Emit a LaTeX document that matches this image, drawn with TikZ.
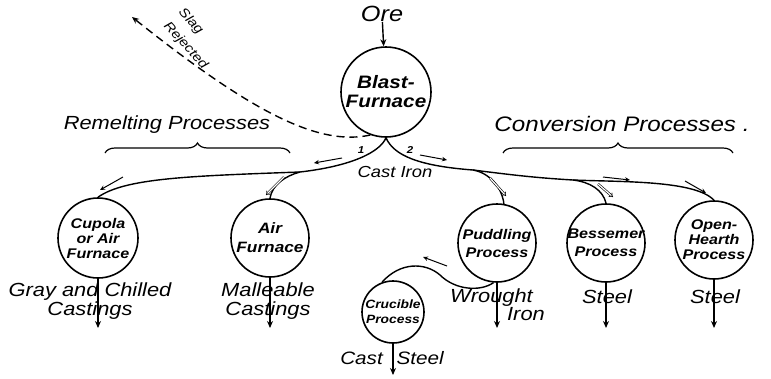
\documentclass[tikz,border=0pt]{standalone}
\usepackage{fontspec}
\newfontfamily\hand{Liberation Sans}[FakeStretch=1.15]
\usetikzlibrary{arrows.meta, decorations.pathreplacing}
\tikzset{
  furnace/.style={draw, circle, line width=1.6pt, minimum size=78pt, inner sep=0pt},
  intext/.style={align=center, inner sep=0pt, font=\hand\bfseries\itshape\fontsize{14}{18}\selectfont},
  intextthree/.style={intext, font=\hand\bfseries\itshape\fontsize{14}{15}\selectfont},
  handtext/.style={align=center, inner sep=0pt, font=\hand\itshape\fontsize{19}{19}\selectfont},
  flow/.style={line width=1.4pt},
  product/.style={line width=1.4pt, -{Stealth[length=7pt, width=6pt]}},
  dirmark/.style={line width=1pt, -{Stealth[length=5pt, width=4.5pt]}},
  dblmark/.style={line width=0.6pt, double, double distance=1.2pt, -{Implies}},
}
\begin{document}
\begin{tikzpicture}[x=1pt, y=-1pt]
    \useasboundingbox (0,0) rectangle (771,378);

    \node[handtext, font=\hand\itshape\fontsize{22}{22}\selectfont] at (382,14) (ore) {Ore};
    \node[furnace, minimum size=90pt, label={[intext, font=\hand\bfseries\itshape\fontsize{18}{19}\selectfont]center:{Blast-\\Furnace}}] at (386,92) (blast) {};

    \node[furnace, minimum size=80pt, label={[intextthree]center:{Cupola\\or Air\\Furnace}}] at (98,238) (cupola) {};
    \node[furnace, label={[intext, font=\hand\bfseries\itshape\fontsize{15}{19}\selectfont]center:{Air\\Furnace}}] at (270,238) (air) {};
    \node[furnace, label={[intext]center:{Puddling\\Process}}] at (497,243) (puddling) {};
    \node[furnace, label={[intext]center:{Bessemer\\Process}}] at (606,243) (bessemer) {};
    \node[furnace, label={[intextthree]center:{Open-\\Hearth\\Process}}] at (714,240) (hearth) {};
    \node[furnace, minimum size=62pt, label={[intext, font=\hand\bfseries\itshape\fontsize{12}{15}\selectfont]center:{Crucible\\Process}}] at (393,312) (crucible) {};

    \node[handtext] at (90,301) (graylbl) {Gray and Chilled\\Castings};
    \node[handtext] at (268,301) (malllbl) {Malleable\\Castings};
    \node[handtext, align=right, anchor=north east, font=\hand\itshape\fontsize{19}{17}\selectfont] at (545,289) (wroughtlbl) {Wrought\hspace*{12pt}\\Iron};
    \node[handtext] at (607,297) (steelbess) {Steel};
    \node[handtext] at (715,297) (steelhearth) {Steel};
    \node[handtext, font=\hand\itshape\fontsize{18}{18}\selectfont] at (392,358) (caststeel) {Cast\hspace{8pt} Steel};

    \node[handtext, font=\hand\itshape\fontsize{16}{16}\selectfont] at (395,172) (castiron) {Cast Iron};
    \node[handtext, font=\hand\bfseries\itshape\fontsize{10}{10}\selectfont] at (361,150) (one) {1};
    \node[handtext, font=\hand\bfseries\itshape\fontsize{10}{10}\selectfont] at (410,150) (two) {2};

    \node[handtext] at (167,125) (remelt) {Remelting Processes};
    \node[handtext, font=\hand\itshape\fontsize{21}{21}\selectfont] at (622,124) (convert) {Conversion Processes .};
    \node[handtext, align=left, rotate=-48, font=\hand\itshape\fontsize{13}{20}\selectfont] at (193,39) (slaglbl) {Slag\\Rejected};

    \coordinate (lsplit) at (300,172);
    \coordinate (rsplit) at (473,170);
    \coordinate (bsplit) at (573,180);
    \coordinate (slag) at (132,17);
    \coordinate (cupolaout) at (98,328);
    \coordinate (airout) at (270,328);
    \coordinate (puddlingout) at (497,328);
    \coordinate (bessemerout) at (606,328);
    \coordinate (hearthout) at (714,328);
    \coordinate (crucibleout) at (393,375);

    \draw[product] (ore) -- (blast);
    \draw[flow, dashed, dash pattern=on 8pt off 5pt, -{Stealth[length=7pt, width=6pt]}] (blast.250) .. controls (320,146) and (255,115) .. (slag);

    \draw[flow] (blast.south) .. controls (380,152) and (352,166) .. (lsplit) .. controls (190,176) and (125,178) .. (cupola.north);
    \draw[flow] (lsplit) .. controls (285,176) and (272,185) .. (air.north);
    \draw[flow] (blast.south) .. controls (394,156) and (420,166) .. (rsplit) .. controls (520,176) and (540,178) .. (bsplit) .. controls (620,182) and (695,180) .. (hearth.north);
    \draw[flow] (rsplit) .. controls (490,173) and (502,188) .. (puddling.80);
    \draw[flow] (bsplit) .. controls (590,182) and (603,190) .. (bessemer.north);
    \draw[flow] (puddling.265) .. controls (480,292) and (455,290) .. (440,275) .. controls (425,262) and (400,262) .. (crucible.110);

    \draw[product] (cupola) -- (cupolaout);
    \draw[product] (air) -- (airout);
    \draw[product] (puddling) -- (puddlingout);
    \draw[product] (bessemer) -- (bessemerout);
    \draw[product] (hearth) -- (hearthout);
    \draw[product] (crucible) -- (crucibleout);

    \draw[dirmark] (342,158) -- (314,163);
    \draw[dirmark] (420,155) -- (447,160);
    \draw[dirmark] (123,177) -- (100,190);
    \draw[dblmark] (284,177) -- (266,195);
    \draw[dblmark] (490,178) -- (506,196);
    \draw[dblmark] (598,184) -- (613,197);
    \draw[dirmark] (603,177) -- (630,180);
    \draw[dirmark] (685,181) -- (706,193);
    \draw[dirmark] (447,266) -- (423,257);

    \draw[line width=1.2pt, decorate, decoration={brace, amplitude=10pt}] (105,153) -- (290,153);
    \draw[line width=1.2pt, decorate, decoration={brace, amplitude=10pt}] (503,153) -- (733,153);
\end{tikzpicture}
\end{document}
